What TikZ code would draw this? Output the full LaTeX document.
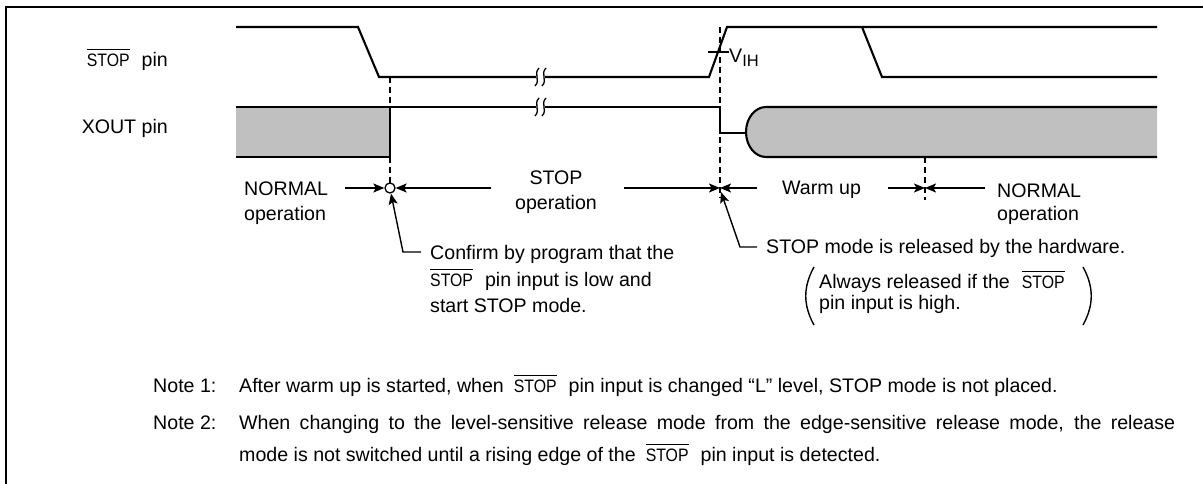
\documentclass[tikz,border=0pt]{standalone}
\usepackage{fontspec}
\usepackage{graphicx}
\setmainfont{Liberation Sans}
\usetikzlibrary{arrows.meta}
\definecolor{wavegray}{RGB}{192,192,192}
\newcommand\ovstop{\scalebox{0.88}[1]{\fontsize{18}{19}\selectfont\setbox0\hbox{STOP}\rlap{\rule[16.5pt]{\wd0}{1pt}}\box0}}
\begin{document}
\begin{tikzpicture}[x=1pt,y=-1pt,
  font=\fontsize{19.6}{22}\selectfont,
  wave/.style={line width=2.1pt, line join=miter},
  dashline/.style={line width=1.4pt, dash pattern=on 6pt off 4pt},
  arr/.style={line width=1.4pt, -{Stealth[length=11pt,width=9pt,inset=2.5pt]}},
  lead/.style={line width=1.4pt},
  txt/.style={inner sep=0pt, anchor=base west},
  ctxt/.style={inner sep=0pt, anchor=base},
]
\useasboundingbox (0,0) rectangle (1203,484);
% frame
\draw[line width=2pt] (6,495) -- (6,7) -- (1215,7);

% XOUT fills
\fill[wavegray] (236,107) rectangle (390,157);
\fill[wavegray] (1157,107) -- (766,107) arc[start angle=90,end angle=270,x radius=20pt,y radius=25pt] -- (1157,157) -- cycle;
% XOUT outline
\draw[wave] (236,107) -- (720,107) -- (720,133) -- (746,133);
\draw[wave] (236,157) -- (390,157) -- (390,107);
\draw[wave] (1157,107) -- (766,107) arc[start angle=90,end angle=270,x radius=20pt,y radius=25pt] -- (1157,157);

% STOP pin
\draw[wave] (236,27) -- (358,27) -- (379,77) -- (709,77) -- (727,27) -- (1157,27);
\draw[wave] (862,27) -- (882,77) -- (1157,77);

% break marks
\foreach \yy in {77,107}{
  \fill[white] (536,\yy-3) rectangle (545,\yy+3);
  \foreach \xx in {537,544}{
    \draw[line width=1.3pt] (\xx+2,\yy-9) .. controls (\xx-4,\yy-3) and (\xx+4,\yy+3) .. (\xx-2,\yy+9);
  }
}

% V_IH
\draw[line width=1.3pt] (708,52) -- (729,52);
\node[txt] (vih) at (729,63) {V\raisebox{-4pt}{\fontsize{16.5}{18}\selectfont IH}};

% dashed markers
\draw[dashline] (390,77) -- (390,183);
\draw[dashline] (720,27) -- (720,198);
\draw[dashline] (925,157) -- (925,200);

% circle
\node[circle, draw, line width=1.3pt, fill=white, minimum size=10pt, inner sep=0pt] (c1) at (390,188) {};

% arrow endpoints
\coordinate (a1s) at (345,188);
\coordinate (a2s) at (491,188);
\coordinate (a3s) at (624,188);
\coordinate (m1) at (720,188);
\coordinate (a4s) at (757,188);
\coordinate (a5s) at (888,188);
\coordinate (m2) at (925,188);
\coordinate (a6s) at (985,188);
\draw[arr] (a1s) -- (c1.west);
\draw[arr] (a2s) -- (c1.east);
\draw[arr] (a3s) -- (m1);
\draw[arr] (a4s) -- (m1);
\draw[arr] (a5s) -- (m2);
\draw[arr] (a6s) -- (m2);

% labels
\node[inner sep=0pt, anchor=base east] (lstop) at (168,67) {\ovstop\hspace{12pt}pin};
\node[inner sep=0pt, anchor=base east] (lxout) at (168,134) {XOUT pin};

\node[txt] (n1) at (244,196) {NORMAL};
\node[txt] (n1b) at (244,220) {operation};
\node[ctxt] (s1) at (556,185) {STOP};
\node[ctxt] (s1b) at (556,209) {operation};
\node[txt] (wu) at (782,195) {Warm up};
\node[txt] (n2) at (997,197) {NORMAL};
\node[txt] (n2b) at (997,221) {operation};

% leaders
\coordinate (l1a) at (421,252);
\coordinate (l1b) at (403,252);
\coordinate (l2a) at (757,247);
\coordinate (l2b) at (740,247);
\coordinate (m1b) at (721,192);
\draw[arr] (l1a) -- (l1b) -- (c1.-80);
\draw[arr] (l2a) -- (l2b) -- (m1b);

\node[txt] (cf1) at (430,259) {Confirm by program that the};
\node[txt] (cf2) at (430,286) {\ovstop\hspace{12pt}pin input is low and};
\node[txt] (cf3) at (430,312) {start STOP mode.};

\node[txt] (rl1) at (766,253) {STOP mode is released by the hardware.};
\node[txt] (al1) at (819,288) {Always released if the\hspace{12pt}\ovstop};
\node[txt] (al2) at (819,309) {pin input is high.};
\draw[lead] (814,267) .. controls (803,287) and (803,305) .. (814,325);
\draw[lead] (1083,267) .. controls (1094,287) and (1094,305) .. (1083,325);

% notes
\node[txt] (nt1) at (153,392) {Note 1:};
\node[txt] (nt1t) at (239,392) {After warm up is started, when\hspace{10pt}\ovstop\hspace{12pt}pin input is changed “L” level, STOP mode is not placed.};
\node[txt] (nt2) at (153,429) {Note 2:};
\node[txt] (nt2t) at (239,429) {\hbox to 936pt{\spaceskip=0.278em plus 2em minus 0.1em When changing to the level-sensitive release mode from the edge-sensitive release mode, the release}};
\node[txt] (nt3) at (239,461) {mode is not switched until a rising edge of the\hspace{10pt}\ovstop\hspace{12pt}pin input is detected.};
\end{tikzpicture}
\end{document}
